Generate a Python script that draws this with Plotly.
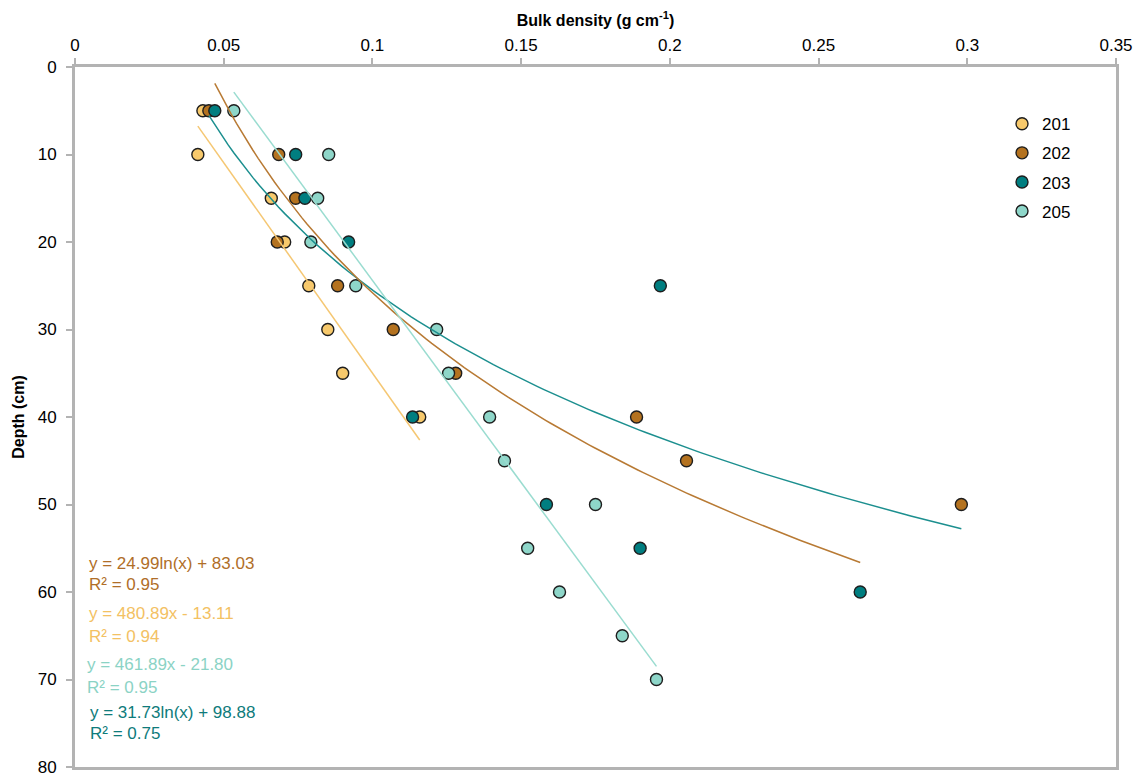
import numpy as np
import plotly.graph_objects as go

# ---- data ----
depth_201 = [5, 10, 15, 20, 25, 30, 35, 40]
bd_201 = [0.043, 0.0413, 0.066, 0.0705, 0.0786, 0.085, 0.090, 0.1159]

depth_202 = [5, 10, 15, 20, 25, 30, 35, 40, 45, 50]
bd_202 = [0.045, 0.0685, 0.0742, 0.068, 0.0883, 0.107, 0.128, 0.1888, 0.2056, 0.298]

depth_203 = [5, 10, 15, 20, 25, 40, 50, 55, 60]
bd_203 = [0.047, 0.0742, 0.0773, 0.092, 0.1968, 0.1135, 0.1585, 0.190, 0.264]

depth_205 = [5, 10, 15, 20, 25, 30, 35, 40, 45, 50, 55, 60, 65, 70]
bd_205 = [0.0534, 0.0853, 0.0816, 0.0793, 0.0944, 0.1216, 0.1256, 0.1394,
          0.1444, 0.175, 0.1522, 0.1629, 0.184, 0.1955]

# trendline coefficients (as printed on the chart)
lin_201 = (480.89, -13.11)
log_202 = (24.99, 83.03)
lin_205 = (461.89, -21.80)
log_203 = (31.73, 98.88)

eq_texts = [
    ("y = 24.99ln(x) + 83.03", "R² = 0.95", "#B06E28"),
    ("y = 480.89x - 13.11", "R² = 0.94", "#F3C163"),
    ("y = 461.89x - 21.80", "R² = 0.95", "#8BD3C5"),
    ("y = 31.73ln(x) + 98.88", "R² = 0.75", "#0E7B7B"),
]

x_ticks = [0, 0.05, 0.1, 0.15, 0.2, 0.25, 0.3, 0.35]
y_ticks = [0, 10, 20, 30, 40, 50, 60, 70, 80]

col_201 = "#F7C96C"
col_202 = "#B4721F"
col_203 = "#007E80"
col_205 = "#8ED6C9"

fig = go.Figure()

def pts(name, x, y, color):
    fig.add_trace(go.Scatter(
        x=x, y=y, mode="markers", name=name, legendgroup=name,
        marker=dict(size=12, color=color, line=dict(color="#1E1E1E", width=1.4)),
    ))

pts("201", bd_201, depth_201, col_201)
pts("202", bd_202, depth_202, col_202)
pts("203", bd_203, depth_203, col_203)
pts("205", bd_205, depth_205, col_205)

def trend(x_data, coef, kind, color):
    xs = np.linspace(min(x_data), max(x_data), 120)
    if kind == "lin":
        ys = coef[0] * xs + coef[1]
    else:
        ys = coef[0] * np.log(xs) + coef[1]
    fig.add_trace(go.Scatter(x=xs, y=ys, mode="lines", showlegend=False,
                             hoverinfo="skip", line=dict(color=color, width=1.5)))

trend(bd_201, lin_201, "lin", "#F5C773")
trend(bd_202, log_202, "log", "#1C8F8F")
trend(bd_203, log_203, "log", "#B87A34")
trend(bd_205, lin_205, "lin", "#9ADCD0")

W, H = 1139, 780
L, R, T, B = 75, 1116, 67, 767   # plot area in window pixels

# equation labels
y_pix = [(563, 584), (613, 636), (664, 687), (712, 733)]
x_pix = [87, 87, 85, 88]
for (eq, r2, c), (y1, y2), xp in zip(eq_texts, y_pix, x_pix):
    for txt, yp in ((eq, y1), (r2, y2)):
        fig.add_annotation(
            text=txt, xref="paper", yref="paper",
            x=(xp - L) / (R - L), y=(B - yp) / (B - T),
            xanchor="left", yanchor="middle", showarrow=False,
            font=dict(size=17, color=c, family="Liberation Sans, Arial"),
        )

axis_common = dict(
    showline=True, linecolor="#B3B3B3", linewidth=3, mirror=True,
    ticks="outside", ticklen=6, tickcolor="#B3B3B3", tickwidth=2,
    showgrid=False, zeroline=False, automargin=False,
    tickfont=dict(size=17, color="black", family="Liberation Sans, Arial"),
)

fig.update_layout(
    width=W, height=H,
    margin=dict(l=L, r=W - R, t=T, b=H - B),
    paper_bgcolor="white", plot_bgcolor="white",
    font=dict(family="Liberation Sans, Arial", color="black"),
    xaxis=dict(range=[0, 0.35], side="top", tickvals=x_ticks,
               ticktext=[f"{v:g}" for v in x_ticks], ticklabelstandoff=0,
               ticklabeloverflow="allow",
               title=dict(text="<b>Bulk density (g cm<sup>-1</sup>)</b>",
                          font=dict(size=16), standoff=6),
               **axis_common),
    yaxis=dict(range=[80, 0], tickvals=y_ticks, ticklabelstandoff=6,
               ticklabeloverflow="allow",
               title=dict(text="<b>Depth (cm)</b>", font=dict(size=16), standoff=10),
               **axis_common),
    legend=dict(x=0.8905, y=0.944, xanchor="left", yanchor="top",
                font=dict(size=17, color="black"),
                traceorder="grouped", tracegroupgap=4,
                bgcolor="rgba(0,0,0,0)"),
    showlegend=True,
)

# remove the browser's default 8px page margin so the figure fills the window
fig.write_html("out.html", config={"displayModeBar": False},
               post_script="document.body.style.margin='0';document.body.style.overflow='hidden';")
